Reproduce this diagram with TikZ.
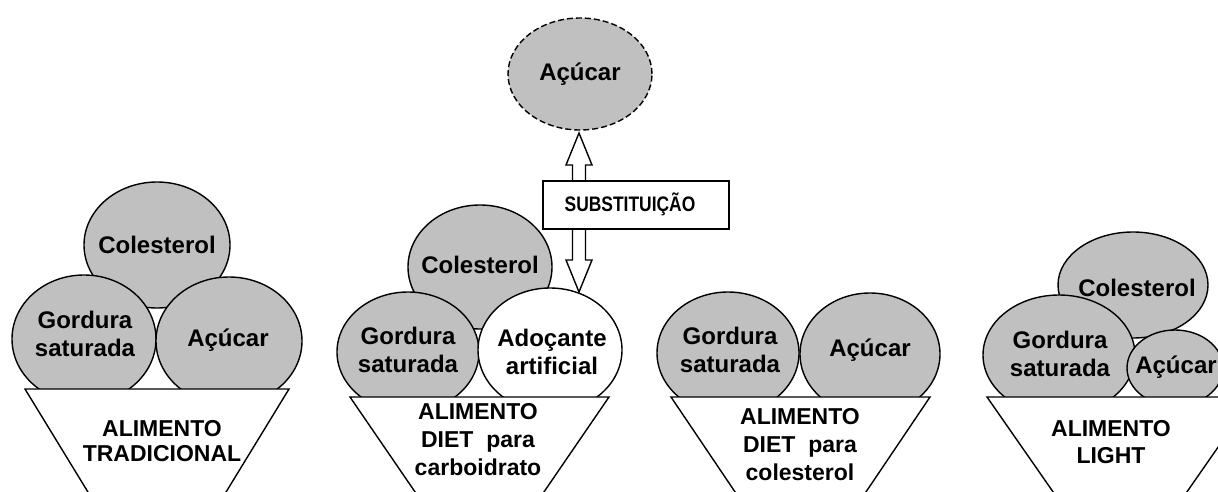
\documentclass[tikz,border=0pt]{standalone}
\usepackage{fontspec}
\setmainfont{Liberation Sans}
\newfontfamily\narrowfont[FakeStretch=0.83]{Liberation Sans}
\usetikzlibrary{shapes.geometric}
\definecolor{ballgray}{RGB}{192,192,192}
\begin{document}
\begin{tikzpicture}[x=1pt,y=-1pt,
  ball/.style={ellipse, draw, line width=1.4pt, fill=ballgray, inner sep=0pt},
  wball/.style={ball, fill=white},
  dball/.style={ball, dash pattern=on 6pt off 3pt},
  cone/.style={draw, line width=1.4pt, fill=white},
  txt/.style={font=\fontsize{24}{28.5}\selectfont\bfseries, align=center, inner sep=0pt},
  ctxt/.style={font=\fontsize{23}{28}\selectfont\bfseries, align=center, inner sep=0pt},
  subbox/.style={draw, line width=1.4pt, fill=white, minimum width=186, minimum height=48, inner sep=0pt},
  dblarrow/.style={draw, line width=1.4pt, fill=white}]
\useasboundingbox (0,0) rectangle (1218,492);
\clip (0,0) rectangle (1218,492);

% ---------- Group 1: ALIMENTO TRADICIONAL ----------
\node[ball, minimum width=146, minimum height=126] (c1) at (157,245) {};
\node[ball, minimum width=144, minimum height=128] (g1) at (84,339) {};
\node[ball, minimum width=146, minimum height=128] (a1) at (229,341) {};
\node[txt] (c1t) at (157,245) {Colesterol};
\node[txt] (g1t) at (85,334) {Gordura\\saturada};
\node[txt] (a1t) at (228,340) {Açúcar};
\draw[cone] (25,389) -- (289,389) -- (157,605) -- cycle;
\node[ctxt, font=\fontsize{23}{25}\selectfont\bfseries] (k1t) at (162,441) {ALIMENTO\\TRADICIONAL};

% ---------- Group 2: ALIMENTO DIET para carboidrato ----------
\node[dball, minimum width=144, minimum height=112] (au) at (580,74) {};
\node[txt] (aut) at (580,74) {Açúcar};
\draw[dblarrow] (579,133) -- (592,165) -- (585.5,165) -- (585.5,260) -- (592,260)
  -- (579,292) -- (566,260) -- (572.5,260) -- (572.5,165) -- (566,165) -- cycle;
\node[subbox] (sb) at (636,205) {};
\node[inner sep=0pt, font=\narrowfont\fontsize{21}{24}\selectfont\bfseries] (sbt) at (630,204) {SUBSTITUIÇÃO};
\node[ball, minimum width=144, minimum height=124] (c2) at (480,267) {};
\node[ball, minimum width=142, minimum height=120] (g2) at (408,352) {};
\node[wball, minimum width=144, minimum height=124] (a2) at (550,350) {};
\node[txt] (c2t) at (480,265) {Colesterol};
\node[txt] (g2t) at (408,350) {Gordura\\saturada};
\node[txt] (a2t) at (552,352) {Adoçante\\artificial};
\draw[cone] (350,397) -- (609,397) -- (479.5,586) -- cycle;
\node[ctxt] (k2t) at (478,440) {ALIMENTO\\DIET\ \ para\\carboidrato};

% ---------- Group 3: ALIMENTO DIET para colesterol ----------
\node[ball, minimum width=142, minimum height=122] (g3) at (728,353) {};
\node[ball, minimum width=140, minimum height=122] (a3) at (870,354) {};
\node[txt] (g3t) at (730,350) {Gordura\\saturada};
\node[txt] (a3t) at (870,350) {Açúcar};
\draw[cone] (671,397) -- (930,397) -- (800.5,589) -- cycle;
\node[ctxt] (k3t) at (800,445) {ALIMENTO\\DIET\ \ para\\colesterol};

% ---------- Group 4: ALIMENTO LIGHT ----------
\node[ball, minimum width=150, minimum height=106] (c4) at (1133,285) {};
\node[ball, minimum width=152, minimum height=120] (g4) at (1059,355) {};
\node[ball, minimum width=96, minimum height=76] (a4) at (1175,368) {};
\node[txt] (c4t) at (1137,288) {Colesterol};
\node[txt] (g4t) at (1060,354) {Gordura\\saturada};
\node[txt] (a4t) at (1176,367) {Açúcar};
\draw[cone] (987,397) -- (1253,397) -- (1120,588) -- cycle;
\node[ctxt, font=\fontsize{23}{27}\selectfont\bfseries] (k4t) at (1111,442) {ALIMENTO\\LIGHT};
\end{tikzpicture}
\end{document}
